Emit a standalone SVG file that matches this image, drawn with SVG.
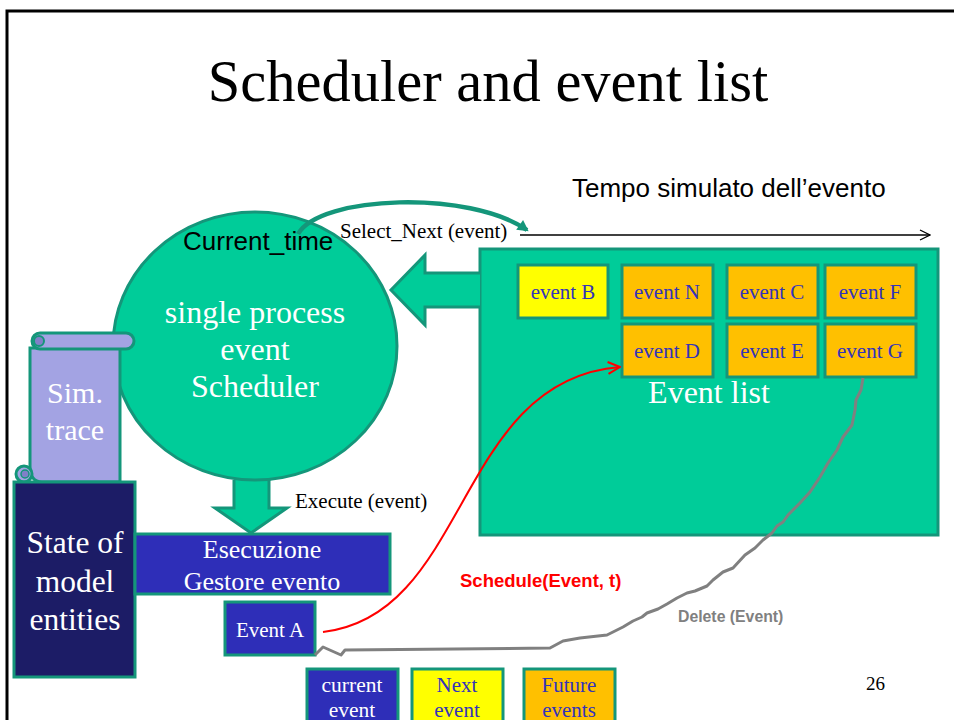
<svg xmlns="http://www.w3.org/2000/svg" width="954" height="720" viewBox="0 0 954 720">
  <style>
    .serif { font-family: "Liberation Serif", "Times New Roman", serif; }
    .sans { font-family: "Liberation Sans", Arial, sans-serif; }
    .teal { fill: #00CC99; stroke: #14967A; stroke-width: 3; }
    .evq { fill: #FFC000; stroke: #14967A; stroke-width: 3; }
    .evn { fill: #FFFF00; stroke: #14967A; stroke-width: 3; }
    .evc { fill: #2E2EB8; stroke: #14967A; stroke-width: 3; }
    .evtxt { font-size: 21px; fill: #3333BB; text-anchor: middle; }
    .wtxt { fill: #FFFFFF; text-anchor: middle; }
  </style>
  <defs>
    <marker id="openArrow" viewBox="0 0 12 12" refX="11" refY="6" markerWidth="12" markerHeight="12" markerUnits="userSpaceOnUse" orient="auto">
      <path d="M1,1 L11,6 L1,11" fill="none" stroke="#000" stroke-width="1.3"/>
    </marker>
    <marker id="redArrow" viewBox="0 0 14 14" refX="13" refY="7" markerWidth="14" markerHeight="14" markerUnits="userSpaceOnUse" orient="auto">
      <path d="M1,1 L13,7 L1,13" fill="none" stroke="#FF0000" stroke-width="2"/>
    </marker>
    <marker id="tealArrow" viewBox="0 0 14 14" refX="10" refY="7" markerWidth="14" markerHeight="14" markerUnits="userSpaceOnUse" orient="auto">
      <path d="M1,1 L12,7 L1,13 Z" fill="#14967A"/>
    </marker>
  </defs>

  <rect width="954" height="720" fill="#FFFFFF"/>
  <!-- slide frame -->
  <path d="M7,740 L7,11 L960,11" fill="none" stroke="#000" stroke-width="3"/>

  <text class="serif" x="488" y="101" font-size="58.5" text-anchor="middle">Scheduler and event list</text>
  <text class="sans" x="572" y="197" font-size="26">Tempo simulato dell’evento</text>

  <!-- event list -->
  <g id="event-list">
    <rect class="teal" x="480" y="249" width="458" height="286"/>
    <text class="serif wtxt" x="709" y="403" font-size="32">Event list</text>
  </g>
  <g id="event-b"><rect class="evn" x="518" y="265" width="90" height="53"/><text class="serif evtxt" x="563" y="299">event B</text></g>
  <g id="event-n"><rect class="evq" x="622" y="265" width="91" height="53"/><text class="serif evtxt" x="667" y="299">event N</text></g>
  <g id="event-c"><rect class="evq" x="727" y="265" width="91" height="53"/><text class="serif evtxt" x="772" y="299">event C</text></g>
  <g id="event-f"><rect class="evq" x="825" y="265" width="91" height="53"/><text class="serif evtxt" x="870" y="299">event F</text></g>
  <g id="event-d"><rect class="evq" x="622" y="324" width="91" height="53"/><text class="serif evtxt" x="667" y="358">event D</text></g>
  <g id="event-e"><rect class="evq" x="727" y="324" width="91" height="53"/><text class="serif evtxt" x="772" y="358">event E</text></g>
  <g id="event-g"><rect class="evq" x="825" y="324" width="91" height="53"/><text class="serif evtxt" x="870" y="358">event G</text></g>

  <!-- block arrows -->
  <g id="arrow-select">
    <path class="teal" d="M480,273 L425,273 L425,255 L391,290 L425,325 L425,307 L480,307"/>
  </g>
  <g id="arrow-execute">
    <path class="teal" d="M234,480 L234,508 L215,508 L251,533 L287,508 L269,508 L269,480"/>
  </g>

  <!-- scheduler -->
  <g id="scheduler">
    <ellipse class="teal" cx="255" cy="346" rx="142" ry="134"/>
    <text class="sans" x="183" y="250" font-size="26">Current_time</text>
    <text class="serif wtxt" x="255" y="323" font-size="32">single process</text>
    <text class="serif wtxt" x="255" y="360" font-size="32">event</text>
    <text class="serif wtxt" x="255" y="397" font-size="32">Scheduler</text>
  </g>

  <!-- simulation trace scroll -->
  <g id="sim-trace">
    <path d="M30,348 L30,466 Q30,482 42,482 L120,482 L120,348 Z" fill="#A3A3E3" stroke="#14967A" stroke-width="3"/>
    <path d="M40,333 L126,333 A8,8 0 0 1 126,349 L40,349 A8,8 0 0 1 40,333 Z" fill="#A3A3E3" stroke="#14967A" stroke-width="3"/>
    <circle cx="39" cy="341" r="5" fill="#8080C8" stroke="#14967A" stroke-width="2"/>
    <circle cx="24" cy="474" r="8" fill="#A3A3E3" stroke="#14967A" stroke-width="3"/>
    <circle cx="25" cy="474" r="4" fill="#8080C8" stroke="#14967A" stroke-width="1.5"/>
    <text class="serif wtxt" x="75" y="403" font-size="30">Sim.</text>
    <text class="serif wtxt" x="75" y="440" font-size="30">trace</text>
  </g>

  <!-- model state -->
  <g id="model-state">
    <rect x="14" y="482" width="121" height="195" fill="#1C1C66" stroke="#14967A" stroke-width="3"/>
    <text class="serif wtxt" x="75" y="553" font-size="31.5">State of</text>
    <text class="serif wtxt" x="75" y="592" font-size="31.5">model</text>
    <text class="serif wtxt" x="75" y="630" font-size="31.5">entities</text>
  </g>

  <g id="handler">
    <rect class="evc" x="135" y="534" width="255" height="60"/>
    <text class="serif wtxt" x="262" y="558" font-size="26">Esecuzione</text>
    <text class="serif wtxt" x="262" y="590" font-size="26">Gestore evento</text>
  </g>

  <g id="event-a">
    <rect class="evc" x="225" y="602" width="90" height="53"/>
    <text class="serif wtxt" x="270" y="637" font-size="21">Event A</text>
  </g>

  <!-- legend -->
  <g id="legend-current">
    <rect class="evc" x="307" y="669" width="91" height="60"/>
    <text class="serif wtxt" x="352" y="692" font-size="21.5">current</text>
    <text class="serif wtxt" x="352" y="717" font-size="21.5">event</text>
  </g>
  <g id="legend-next">
    <rect class="evn" x="412" y="669" width="91" height="60"/>
    <text class="serif evtxt" x="457" y="692" font-size="21.5">Next</text>
    <text class="serif evtxt" x="457" y="717" font-size="21.5">event</text>
  </g>
  <g id="legend-future">
    <rect class="evq" x="524" y="669" width="91" height="60"/>
    <text class="serif evtxt" x="569" y="692" font-size="21.5">Future</text>
    <text class="serif evtxt" x="569" y="717" font-size="21.5">events</text>
  </g>

  <!-- connectors -->
  <g id="connectors">
    <line x1="520" y1="235" x2="930" y2="235" stroke="#000" stroke-width="1.3" marker-end="url(#openArrow)"/>
    <path d="M298,234 C320,195 470,190 527,230" fill="none" stroke="#14967A" stroke-width="4.5" marker-end="url(#tealArrow)"/>
    <path d="M323,632 C470,615 455,380 620,367" fill="none" stroke="#FF0000" stroke-width="2" marker-end="url(#redArrow)"/>
    <path d="M863,378 L861,390 L856,400 L855,410 L852,425 L843,437 L837,450 L828,463 L820,477 L810,492 L800,503 L788,515 L783,522 L777,526 L772,533 L763,540 L755,548 L745,555 L733,568 L723,572 L713,580 L707,586 L695,591 L687,593 L677,598 L667,604 L658,609 L647,613 L642,617 L633,621 L623,627 L607,635 L580,638 L563,641 L550,648 L345,650 L341,655 L323,647 L315,655" fill="none" stroke="#808080" stroke-width="3" stroke-linejoin="round"/>
  </g>

  <text class="serif" x="340" y="238" font-size="21">Select_Next (event)</text>
  <text class="serif" x="295" y="508" font-size="21">Execute (event)</text>
  <text class="sans" x="460" y="587" font-size="18.5" font-weight="bold" fill="#FF0000">Schedule(Event, t)</text>
  <text class="sans" x="678" y="622" font-size="15.8" font-weight="bold" fill="#808080">Delete (Event)</text>
  <text class="serif" x="866" y="690" font-size="19">26</text>
</svg>
